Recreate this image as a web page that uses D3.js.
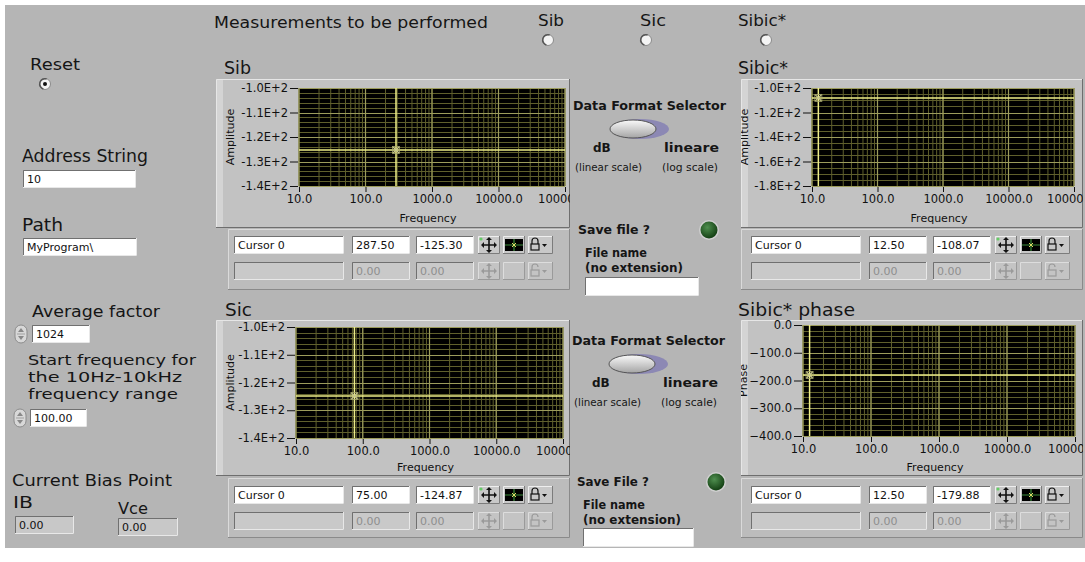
<!DOCTYPE html>
<html><head><meta charset="utf-8">
<script src="https://cdn.jsdelivr.net/npm/d3@7"></script>
<style>
html,body{margin:0;padding:0;background:#fff;}
svg{display:block;font-family:"DejaVu Sans",Verdana,sans-serif;}
</style></head><body>
<svg id="panel" width="1085" height="562"></svg>
<script>
// ---- data ----
const freqTicks = [10, 100, 1000, 10000, 100000];
const sibTicks = [-100, -110, -120, -130, -140];
const sicTicks = [-100, -110, -120, -130, -140];
const sibicTicks = [-100, -120, -140, -160, -180];
const phaseTicks = [0, -100, -200, -300, -400];
const cursorSib = [287.50, -125.30];
const cursorSic = [75.00, -124.87];
const cursorSibic = [12.50, -108.07];
const cursorPhase = [12.50, -179.88];
const measurements = ["Sib", "Sic", "Sibic*"];
const addressString = "10";
const pathString = "MyProgram\\";
const averageFactor = 1024;
const startFrequency = 100.00;
const biasIB = 0.00;
const biasVce = 0.00;

const BG = "#b5b5b5";
const svg = d3.select("#panel");

// ---- helpers ----
function label(x, y, s, o = {}) {
  const t = svg.append("text").attr("x", x).attr("y", y).text(s)
    .attr("font-size", o.size || 16)
    .attr("font-weight", o.weight || "normal")
    .attr("fill", o.color || "#151515");
  if (o.w) t.attr("textLength", o.w).attr("lengthAdjust", "spacingAndGlyphs");
  if (o.anchor) t.attr("text-anchor", o.anchor);
  return t;
}
function bevel(g, x, y, w, h, fill, raised, light, dark) {
  g.append("rect").attr("x", x).attr("y", y).attr("width", w).attr("height", h).attr("fill", fill);
  const lt = raised ? (light || "#ececec") : (dark || "#7a7a7a");
  const dk = raised ? (dark || "#7a7a7a") : (light || "#ececec");
  g.append("path").attr("d", `M${x + 0.5},${y + h}V${y + 0.5}H${x + w}`).attr("stroke", lt).attr("fill", "none");
  g.append("path").attr("d", `M${x + w - 0.5},${y}V${y + h - 0.5}H${x}`).attr("stroke", dk).attr("fill", "none");
}
function textBox(x, y, w, h, s, o = {}) {
  const g = svg.append("g");
  bevel(g, x - 1, y - 1, w + 2, h + 2, o.frame || "#9a9a9a", false, "#e8e8e8", "#707070");
  g.append("rect").attr("x", x).attr("y", y).attr("width", w).attr("height", h).attr("fill", o.fill || "#fff");
  if (s !== null) g.append("text").attr("x", x + 3).attr("y", y + h - 4).text(s)
    .attr("font-size", o.size || 11).attr("fill", o.color || "#111");
  return g;
}
function radio(cx, cy, on) {
  const g = svg.append("g");
  g.append("circle").attr("cx", cx).attr("cy", cy).attr("r", 5.5).attr("fill", "#f4f4f4")
    .attr("stroke", "#8a8a8a").attr("stroke-width", 1);
  g.append("path").attr("d", d3.arc()({ innerRadius: 4.5, outerRadius: 6, startAngle: -Math.PI * 0.9, endAngle: Math.PI * 0.1 }))
    .attr("transform", `translate(${cx},${cy})`).attr("fill", "#555");
  if (on) g.append("circle").attr("cx", cx).attr("cy", cy).attr("r", 2).attr("fill", "#111");
}
function spinner(x, y, h) {
  const g = svg.append("g");
  g.append("rect").attr("x", x).attr("y", y).attr("width", 12).attr("height", h).attr("rx", 6)
    .attr("fill", "#d8d8d8").attr("stroke", "#8c8c8c");
  g.append("path").attr("d", `M${x + 6},${y + 3}l-3,4h6z`).attr("fill", "#888");
  g.append("path").attr("d", `M${x + 6},${y + h - 3}l-3,-4h6z`).attr("fill", "#888");
  g.append("line").attr("x1", x + 2).attr("x2", x + 10).attr("y1", y + h / 2).attr("y2", y + h / 2).attr("stroke", "#a0a0a0");
}

// ---- background ----
svg.append("rect").attr("width", 1085).attr("height", 562).attr("fill", "#fff");
svg.append("rect").attr("x", 5).attr("y", 5).attr("width", 1080).attr("height", 543).attr("fill", BG);

// ---- graph ----
let clipId = 0;
function graph(cfg) {
  const [px0, py0, px1, py1] = cfg.panel;
  const [L, T, R, B] = cfg.plot;
  const x = d3.scaleLog().domain([freqTicks[0], freqTicks[freqTicks.length - 1]]).range([L, R]);
  const y = d3.scaleLinear().domain([cfg.yTicks[0], cfg.yTicks[cfg.yTicks.length - 1]]).range([T, B]);
  const id = "clip" + (clipId++);
  svg.append("clipPath").attr("id", id).append("rect")
    .attr("x", px0).attr("y", py0).attr("width", px1 - px0).attr("height", py1 - py0);
  const g = svg.append("g").attr("clip-path", `url(#${id})`);
  bevel(g, px0, py0, px1 - px0, py1 - py0, "#c2c2c2", true, "#e6e6e6", "#6e6e6e");
  g.append("rect").attr("x", px0 + 1).attr("y", py0 + 1).attr("width", 6).attr("height", py1 - py0 - 2).attr("fill", "#d4d4d4");
  g.append("rect").attr("x", L).attr("y", T).attr("width", R - L).attr("height", B - T).attr("fill", "#000");

  const grid = g.append("g");
  // minor grid
  grid.selectAll(".mx").data(x.ticks()).join("line")
    .attr("x1", d => x(d)).attr("x2", d => x(d)).attr("y1", T).attr("y2", B)
    .attr("stroke", "#5f5f2c").attr("stroke-width", 1);
  grid.selectAll(".my").data(y.ticks(cfg.minor)).join("line")
    .attr("x1", L).attr("x2", R).attr("y1", d => Math.round(y(d)) + 0.5).attr("y2", d => Math.round(y(d)) + 0.5)
    .attr("stroke", "#5f5f2c").attr("stroke-width", 1);
  // major grid
  grid.selectAll(".Mx").data(freqTicks).join("line")
    .attr("x1", d => x(d)).attr("x2", d => x(d)).attr("y1", T).attr("y2", B)
    .attr("stroke", "#9c9c5c").attr("stroke-width", 1.2);
  grid.selectAll(".My").data(cfg.yTicks).join("line")
    .attr("x1", L).attr("x2", R).attr("y1", d => Math.round(y(d)) + 0.5).attr("y2", d => Math.round(y(d)) + 0.5)
    .attr("stroke", "#9c9c5c").attr("stroke-width", 1.2);
  // cursor
  const [cxv, cyv] = cfg.cursor;
  g.append("line").attr("x1", x(cxv)).attr("x2", x(cxv)).attr("y1", T).attr("y2", B)
    .attr("stroke", "#eeee88").attr("stroke-width", 1.5);
  g.append("line").attr("x1", L).attr("x2", R).attr("y1", y(cyv)).attr("y2", y(cyv))
    .attr("stroke", "#eeee88").attr("stroke-width", 1.5);
  g.append("path").attr("d", `M${x(cxv) - 3},${y(cyv) - 3}l6,6M${x(cxv) + 3},${y(cyv) - 3}l-6,6`)
    .attr("stroke", "#c8c890").attr("stroke-width", 1.3);
  g.append("rect").attr("x", x(cxv) - 3.5).attr("y", y(cyv) - 3.5).attr("width", 7).attr("height", 7)
    .attr("fill", "none").attr("stroke", "#a8a870").attr("stroke-width", 0.8);

  // axes
  const ax = g.append("g").attr("transform", `translate(${L - 1},0)`)
    .call(d3.axisLeft(y).tickValues(cfg.yTicks).tickFormat(cfg.yFmt).tickSize(8).tickPadding(2));
  const bx = g.append("g").attr("transform", `translate(0,${B + 1})`)
    .call(d3.axisBottom(x).tickValues(freqTicks).tickFormat(d3.format(".1f")).tickSize(5).tickPadding(3));
  [ax, bx].forEach(a => {
    a.select(".domain").remove();
    a.selectAll("text").attr("font-size", 11.5).attr("fill", "#111").attr("font-family", "DejaVu Sans, sans-serif");
    a.selectAll("line").attr("stroke", "#111");
  });
  g.append("text").attr("transform", `translate(${cfg.yTitleX},${(T + B) / 2}) rotate(-90)`)
    .attr("text-anchor", "middle").attr("font-size", 11).attr("fill", "#111").text(cfg.yTitle);
  g.append("text").attr("x", (L + R) / 2 - 4).attr("y", cfg.xTitleY).attr("text-anchor", "middle")
    .attr("font-size", 11).attr("fill", "#111").text("Frequency");
}

// ---- cursor legend ----
function moveIcon(g, cx, cy, col) {
  g.append("path").attr("d", `M${cx - 7},${cy}H${cx + 7}M${cx},${cy - 7}V${cy + 7}`).attr("stroke", col).attr("stroke-width", 1.6);
  g.append("path").attr("d", `M${cx - 8},${cy}l3,-3v6zM${cx + 8},${cy}l-3,-3v6zM${cx},${cy - 8}l-3,3h6zM${cx},${cy + 8}l-3,-3h6z`).attr("fill", col);
}
function lockIcon(g, cx, cy, col, open) {
  g.append("rect").attr("x", cx - 4).attr("y", cy - 1).attr("width", 8).attr("height", 6).attr("fill", "none").attr("stroke", col).attr("stroke-width", 1.2);
  g.append("path").attr("d", open ? `M${cx - 3},${cy - 1}v-3a3,3 0 0 1 6,0` : `M${cx - 3},${cy - 1}v-3a3,3 0 0 1 6,0v3`)
    .attr("fill", "none").attr("stroke", col).attr("stroke-width", 1.2);
  g.append("path").attr("d", `M${cx + 7},${cy - 1}h5l-2.5,3z`).attr("fill", col);
}
function legend(x0, y0, frame, cursor) {
  const g = svg.append("g");
  bevel(g, frame[0], frame[1], frame[2] - frame[0], frame[3] - frame[1], "#bcbcbc", true, "#dadada", "#8a8a8a");
  textBox(x0, y0, 108, 16, "Cursor 0");
  textBox(x0 + 118, y0, 56, 16, cursor[0].toFixed(2));
  textBox(x0 + 182, y0, 56, 16, cursor[1].toFixed(2));
  // buttons
  const b = svg.append("g");
  bevel(b, x0 + 243, y0 - 1, 22, 18, "#c8c8c8", true, "#eeeeee", "#7c7c7c");
  moveIcon(b, x0 + 254, y0 + 8, "#111");
  b.append("circle").attr("cx", x0 + 246).attr("cy", y0 + 2).attr("r", 1.6).attr("fill", "#6c6");
  bevel(b, x0 + 268, y0 - 1, 22, 18, "#c8c8c8", true, "#eeeeee", "#7c7c7c");
  b.append("rect").attr("x", x0 + 270).attr("y", y0 + 2).attr("width", 18).attr("height", 12).attr("fill", "#000");
  b.append("path").attr("d", `M${x0 + 270},${y0 + 8}h18M${x0 + 279},${y0 + 2}v12`).attr("stroke", "#3a8a3a").attr("stroke-width", 1.2);
  b.append("path").attr("d", `M${x0 + 277},${y0 + 6}l4,4M${x0 + 281},${y0 + 6}l-4,4`).attr("stroke", "#dddd66").attr("stroke-width", 1);
  bevel(b, x0 + 293, y0 - 1, 25, 18, "#c8c8c8", true, "#eeeeee", "#7c7c7c");
  lockIcon(b, x0 + 300, y0 + 8, "#111", false);
  // second row (disabled)
  const y1 = y0 + 26;
  textBox(x0, y1, 108, 16, null, { fill: "#c9c9c9" });
  textBox(x0 + 118, y1, 56, 16, "0.00", { fill: "#c9c9c9", color: "#8e8e8e" });
  textBox(x0 + 182, y1, 56, 16, "0.00", { fill: "#c9c9c9", color: "#8e8e8e" });
  bevel(b, x0 + 243, y1 - 1, 22, 18, "#c4c4c4", true, "#dddddd", "#9a9a9a");
  moveIcon(b, x0 + 254, y1 + 8, "#9a9a9a");
  bevel(b, x0 + 268, y1 - 1, 22, 18, "#c4c4c4", true, "#dddddd", "#9a9a9a");
  bevel(b, x0 + 293, y1 - 1, 25, 18, "#c4c4c4", true, "#dddddd", "#9a9a9a");
  lockIcon(b, x0 + 300, y1 + 8, "#9a9a9a", true);
}

// ---- format selector block ----
function formatBlock(x0, y0, ledX, ledY, saveLabel, boxX, boxY, boxW) {
  label(x0, y0, "Data Format Selector", { size: 12.5, weight: "bold", w: 153 });
  const g = svg.append("g");
  const defs = svg.append("defs");
  const gid = "knob" + x0 + y0;
  const lg = defs.append("linearGradient").attr("id", gid).attr("x1", 0).attr("y1", 0).attr("x2", 0).attr("y2", 1);
  lg.append("stop").attr("offset", 0).attr("stop-color", "#fafafa");
  lg.append("stop").attr("offset", 1).attr("stop-color", "#a4a4a4");
  g.append("ellipse").attr("cx", x0 + 67).attr("cy", y0 + 19).attr("rx", 29).attr("ry", 10).attr("fill", "#8c88b4");
  g.append("ellipse").attr("cx", x0 + 60).attr("cy", y0 + 19).attr("rx", 23).attr("ry", 9).attr("fill", `url(#${gid})`).attr("stroke", "#555").attr("stroke-width", 1);
  label(x0 + 20, y0 + 42, "dB", { size: 12, weight: "bold" });
  label(x0 + 91, y0 + 42, "lineare", { size: 12, weight: "bold", w: 55 });
  label(x0 + 2, y0 + 61, "(linear scale)", { size: 11, w: 67 });
  label(x0 + 89, y0 + 61, "(log scale)", { size: 11, w: 56 });
  label(x0 + 5, ledY + 4, saveLabel, { size: 12.5, weight: "bold", w: 72 });
  const rg = defs.append("radialGradient").attr("id", "led" + gid).attr("cx", 0.4).attr("cy", 0.35).attr("r", 0.7);
  rg.append("stop").attr("offset", 0).attr("stop-color", "#4f8f4f");
  rg.append("stop").attr("offset", 1).attr("stop-color", "#0f3a0f");
  svg.append("circle").attr("cx", ledX).attr("cy", ledY).attr("r", 10).attr("fill", "#d0d0d0");
  svg.append("circle").attr("cx", ledX).attr("cy", ledY).attr("r", 8.5).attr("fill", `url(#led${gid})`);
  label(boxX, ledY + 27, "File name", { size: 12, weight: "bold", w: 62 });
  label(boxX, ledY + 42, "(no extension)", { size: 12, weight: "bold", w: 98 });
  textBox(boxX + 1, boxY, boxW, 17, "");
}

// ---- header ----
label(214, 28, "Measurements to be performed", { size: 16, w: 274 });
const radioX = [548, 646, 766];
const radioLabelX = [538, 640, 738];
const radioLabelW = [26, 26, 48];
measurements.forEach((m, i) => {
  label(radioLabelX[i], 26, m, { size: 16, w: radioLabelW[i] });
  radio(radioX[i], 40, false);
});

// ---- left column ----
label(30, 70, "Reset", { size: 16, w: 50 });
radio(45, 84, true);
label(22, 162, "Address String", { size: 17, w: 126 });
textBox(24, 171, 111, 16, addressString);
label(22, 231, "Path", { size: 17, w: 41 });
textBox(24, 239, 112, 16, pathString);
label(32, 317, "Average factor", { size: 16, w: 128 });
spinner(15, 325, 18);
textBox(33, 326, 56, 16, String(averageFactor));
label(28, 365, "Start frequency for", { size: 14.5, w: 168 });
label(28, 382, "the 10Hz-10kHz", { size: 14.5, w: 154 });
label(28, 399, "frequency range", { size: 14.5, w: 150 });
spinner(14, 409, 18);
textBox(31, 410, 55, 16, startFrequency.toFixed(2));
label(12, 486, "Current Bias Point", { size: 16, w: 160 });
label(13, 508, "IB", { size: 16, w: 20 });
label(118, 514, "Vce", { size: 16, w: 30 });
textBox(16, 517, 57, 16, biasIB.toFixed(2), { fill: "#c8c8c8" });
textBox(119, 519, 58, 16, biasVce.toFixed(2), { fill: "#c8c8c8" });

// ---- graph titles ----
label(224, 74, "Sib", { size: 17, w: 27 });
label(738, 74, "Sibic*", { size: 17, w: 50 });
label(225, 316, "Sic", { size: 17, w: 27 });
label(738, 316, "Sibic* phase", { size: 17, w: 117 });

const fmtE = d => (d / 100).toFixed(1) + "E+2";
const fmt1 = d3.format(".1f");
graph({ panel: [216, 79, 570, 228], plot: [299, 88, 565, 186], yTicks: sibTicks, minor: 20, yFmt: fmtE,
  yTitle: "Amplitude", yTitleX: 234, xTitleY: 222, cursor: cursorSib });
graph({ panel: [741, 79, 1083, 228], plot: [812, 88, 1074, 186], yTicks: sibicTicks, minor: 16, yFmt: fmtE,
  yTitle: "Amplitude", yTitleX: 748, xTitleY: 222, cursor: cursorSibic });
graph({ panel: [216, 320, 570, 476], plot: [296, 327, 563, 438], yTicks: sicTicks, minor: 20, yFmt: fmtE,
  yTitle: "Amplitude", yTitleX: 234, xTitleY: 471, cursor: cursorSic });
graph({ panel: [741, 320, 1083, 476], plot: [803, 325, 1075, 436], yTicks: phaseTicks, minor: 16, yFmt: fmt1,
  yTitle: "Phase", yTitleX: 747, xTitleY: 471, cursor: cursorPhase });

legend(235, 237, [228, 229, 570, 290], cursorSib);
legend(752, 237, [741, 229, 1083, 290], cursorSibic);
legend(235, 487, [228, 478, 570, 538], cursorSic);
legend(752, 487, [741, 478, 1083, 538], cursorPhase);

formatBlock(573, 110, 709, 230, "Save file ?", 585, 278, 112);
formatBlock(572, 345, 716, 482, "Save File ?", 583, 529, 109);
</script>
</body></html>
